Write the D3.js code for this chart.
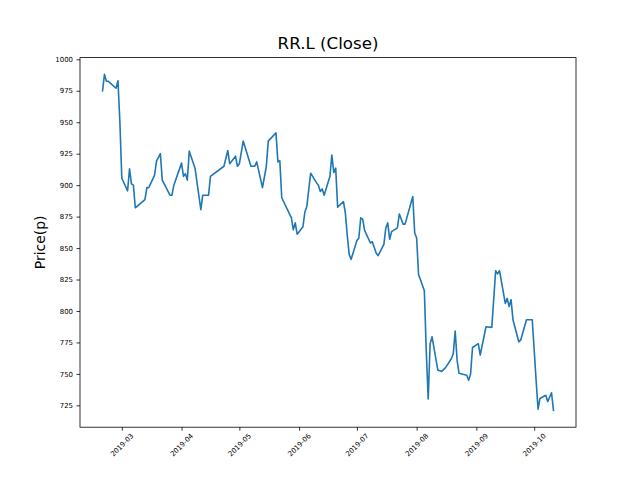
<!DOCTYPE html>
<html>
<head>
<meta charset="utf-8">
<script src="https://cdn.jsdelivr.net/npm/d3@7"></script>
<style>
  html, body { margin: 0; padding: 0; background: #ffffff; }
  svg { display: block; font-family: "DejaVu Sans", sans-serif; }
</style>
</head>
<body>
<svg id="chart" width="640" height="480"></svg>
<script>
// ---- data ----
const dates = [
  "2019-02-19","2019-02-20","2019-02-21","2019-02-22","2019-02-26","2019-02-27","2019-02-28",
  "2019-03-01","2019-03-04","2019-03-05","2019-03-06","2019-03-07","2019-03-08","2019-03-13",
  "2019-03-14","2019-03-15","2019-03-18","2019-03-19","2019-03-21","2019-03-22","2019-03-26",
  "2019-03-27","2019-03-28","2019-04-01","2019-04-02","2019-04-03","2019-04-04","2019-04-05",
  "2019-04-08","2019-04-11","2019-04-12","2019-04-15","2019-04-16","2019-04-23","2019-04-25",
  "2019-04-26","2019-04-29","2019-04-30","2019-05-01","2019-05-03","2019-05-07","2019-05-09",
  "2019-05-10","2019-05-13","2019-05-15","2019-05-16","2019-05-20","2019-05-21","2019-05-22",
  "2019-05-23","2019-05-28","2019-05-29","2019-05-30","2019-05-31","2019-06-03","2019-06-04",
  "2019-06-05","2019-06-07","2019-06-10","2019-06-11","2019-06-12","2019-06-13","2019-06-14",
  "2019-06-17","2019-06-18","2019-06-19","2019-06-20","2019-06-21","2019-06-24","2019-06-25",
  "2019-06-26","2019-06-27","2019-06-28","2019-07-01","2019-07-02","2019-07-03","2019-07-04",
  "2019-07-05","2019-07-08","2019-07-09","2019-07-11","2019-07-12","2019-07-15","2019-07-16",
  "2019-07-17","2019-07-18","2019-07-19","2019-07-22","2019-07-23","2019-07-25","2019-07-26",
  "2019-07-30","2019-07-31","2019-08-01","2019-08-02","2019-08-05","2019-08-06","2019-08-07",
  "2019-08-08","2019-08-09","2019-08-12","2019-08-13","2019-08-14","2019-08-16","2019-08-19",
  "2019-08-20","2019-08-21","2019-08-22","2019-08-23","2019-08-27","2019-08-28","2019-08-29",
  "2019-08-30","2019-09-02","2019-09-03","2019-09-06","2019-09-09","2019-09-11","2019-09-12",
  "2019-09-13","2019-09-16","2019-09-17","2019-09-18","2019-09-19","2019-09-20","2019-09-23",
  "2019-09-24","2019-09-27","2019-09-30","2019-10-01","2019-10-02","2019-10-03","2019-10-04",
  "2019-10-07","2019-10-08","2019-10-10","2019-10-11"
];
const closePrices = [
  975, 988, 982.5, 982.5, 977, 983, 950,
  905.5, 895.5, 913, 901, 900, 882, 888.5,
  898, 898, 908, 919, 925, 904, 892,
  892, 900, 917.5, 907, 909, 904, 927,
  913.5, 880.5, 892, 892, 907, 915, 927.5,
  917, 923, 915, 917, 935, 915, 915,
  918.5, 898, 915, 935, 941.5, 918.5, 919.5,
  890, 874, 864.5, 870, 861, 867, 878.5,
  883, 909.5, 902, 900, 895, 897, 892,
  907, 924, 910, 913.5, 882.5, 887, 878,
  860, 845, 841, 856, 858, 874, 873,
  864, 854, 855, 846, 844, 853, 866,
  870, 857, 863, 866, 877, 869, 869,
  891, 862, 858, 829, 816, 768, 730,
  774, 779.5, 753, 752.5, 752, 755, 762,
  766, 784, 761, 750.5, 749, 745, 750,
  771, 774, 765, 787.5, 787, 832, 829.5,
  832, 806, 810, 803.5, 809, 793, 775.5,
  777, 793, 793, 769, 745, 722, 730.5,
  733, 728, 735, 721
];
const yTickValues = [725, 750, 775, 800, 825, 850, 875, 900, 925, 950, 975, 1000];
const xTickLabels = ["2019-03","2019-04","2019-05","2019-06","2019-07","2019-08","2019-09","2019-10"];
const titleText = "RR.L (Close)";
const yLabelText = "Price(p)";

// ---- chart ----
(function () {
const parseDate = d3.timeParse("%Y-%m-%d");
const parseMonth = d3.timeParse("%Y-%m");
const series = dates.map((d, i) => ({ date: parseDate(d), value: closePrices[i] }));

const W = 640, H = 480;
const mLeft = 0.125 * W, mRight = 0.9 * W, mTop = 0.12 * H, mBottom = 0.89 * H;

const tExt = d3.extent(series, d => +d.date);
const tPad = (tExt[1] - tExt[0]) * 0.05;
const vExt = d3.extent(series, d => d.value);
const vPad = (vExt[1] - vExt[0]) * 0.05;

const x = d3.scaleTime()
  .domain([new Date(tExt[0] - tPad), new Date(tExt[1] + tPad)])
  .range([mLeft, mRight]);
const y = d3.scaleLinear()
  .domain([vExt[0] - vPad, vExt[1] + vPad])
  .range([mBottom, mTop]);

const svg = d3.select("#chart");
svg.append("rect").attr("x", 0).attr("y", 0).attr("width", W).attr("height", H).attr("fill", "#ffffff");

// line
const line = d3.line().x(d => x(d.date)).y(d => y(d.value));
svg.append("path")
  .datum(series)
  .attr("d", line)
  .attr("fill", "none")
  .attr("stroke", "#1f77b4")
  .attr("stroke-width", 1.6)
  .attr("stroke-linejoin", "round")
  .attr("stroke-linecap", "square");

// axes
const xAxis = d3.axisBottom(x)
  .tickValues(xTickLabels.map(parseMonth))
  .tickFormat(d3.timeFormat("%Y-%m"))
  .tickSize(3.5).tickSizeOuter(0).tickPadding(3.5);
const gx = svg.append("g").attr("transform", `translate(0,${mBottom})`).call(xAxis);
gx.select(".domain").remove();
gx.selectAll(".tick line").attr("stroke", "#000").attr("stroke-width", 0.8);
gx.selectAll(".tick text")
  .attr("fill", "#000")
  .attr("font-size", 6.94)
  .attr("font-family", "DejaVu Sans")
  .attr("text-anchor", "middle")
  .attr("dy", null)
  .attr("y", null)
  .attr("transform", "translate(0,18) rotate(-45)")
  .attr("dominant-baseline", "central");

const yAxis = d3.axisLeft(y)
  .tickValues(yTickValues)
  .tickFormat(d3.format("d"))
  .tickSize(3.5).tickSizeOuter(0).tickPadding(3.5);
const gy = svg.append("g").attr("transform", `translate(${mLeft},0)`).call(yAxis);
gy.select(".domain").remove();
gy.selectAll(".tick line").attr("stroke", "#000").attr("stroke-width", 0.8);
gy.selectAll(".tick text")
  .attr("fill", "#000")
  .attr("font-size", 6.94)
  .attr("font-family", "DejaVu Sans");

// frame
svg.append("rect")
  .attr("x", mLeft).attr("y", mTop)
  .attr("width", mRight - mLeft).attr("height", mBottom - mTop)
  .attr("fill", "none").attr("stroke", "#000").attr("stroke-width", 0.8);

// title
svg.append("text")
  .attr("x", (mLeft + mRight) / 2)
  .attr("y", mTop - 8.5)
  .attr("text-anchor", "middle")
  .attr("font-size", 16.67)
  .attr("fill", "#000")
  .text(titleText);

// y label
svg.append("text")
  .attr("transform", `translate(45,${(mTop + mBottom) / 2}) rotate(-90)`)
  .attr("text-anchor", "middle")
  .attr("font-size", 13.89)
  .attr("fill", "#000")
  .text(yLabelText);
})();
</script>
</body>
</html>
